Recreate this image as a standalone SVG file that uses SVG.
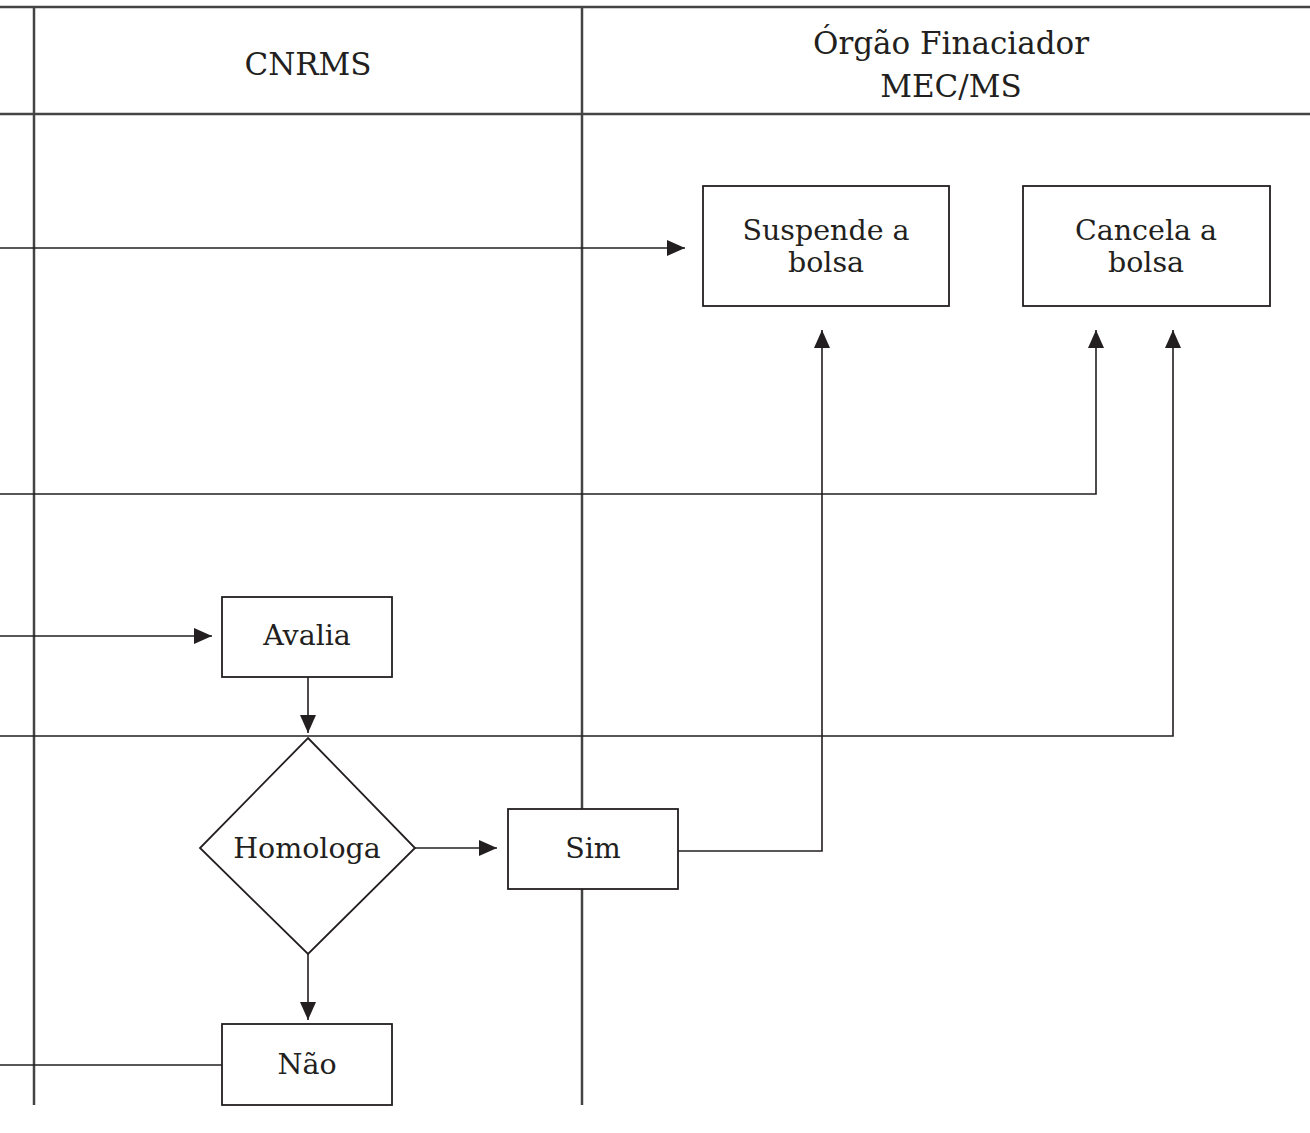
<svg xmlns="http://www.w3.org/2000/svg" width="1310" height="1133" viewBox="0 0 1310 1133">
<style>
.lane{stroke:#444;stroke-width:2.5;fill:none}
.box{fill:#fff;stroke:#231f20;stroke-width:1.8}
.conn{stroke:#231f20;stroke-width:1.6;fill:none}
text{font-family:"DejaVu Serif","Liberation Serif",serif;font-size:28.5px;fill:#231f20;text-anchor:middle}
text.hd{font-size:31px}
</style>
<defs>
<marker id="ah" markerWidth="18" markerHeight="16" refX="18" refY="8" orient="auto" markerUnits="userSpaceOnUse">
<path d="M0,0 L18,8 L0,16 Z" fill="#231f20"/>
</marker>
</defs>
<rect width="1310" height="1133" fill="#fff"/>
<g id="lanes">
<line class="lane" x1="0" y1="7" x2="1310" y2="7"/>
<line class="lane" x1="0" y1="114" x2="1310" y2="114"/>
<line class="lane" x1="34" y1="7" x2="34" y2="1105"/>
<line class="lane" x1="582" y1="7" x2="582" y2="1105"/>
<text class="hd" x="308" y="75">CNRMS</text>
<text class="hd" x="951" y="54">Órgão Finaciador</text>
<text class="hd" x="951" y="97">MEC/MS</text>
</g>
<g id="connectors">
<line class="conn" x1="0" y1="248" x2="685" y2="248" marker-end="url(#ah)"/>
<polyline class="conn" points="678,851 822,851 822,330" marker-end="url(#ah)"/>
<polyline class="conn" points="0,494 1096,494 1096,330" marker-end="url(#ah)"/>
<polyline class="conn" points="0,736 1173,736 1173,330" marker-end="url(#ah)"/>
<line class="conn" x1="0" y1="636" x2="212" y2="636" marker-end="url(#ah)"/>
<line class="conn" x1="308" y1="677" x2="308" y2="733" marker-end="url(#ah)"/>
<line class="conn" x1="415" y1="848" x2="497" y2="848" marker-end="url(#ah)"/>
<line class="conn" x1="308" y1="954" x2="308" y2="1020" marker-end="url(#ah)"/>
<line class="conn" x1="222" y1="1065" x2="0" y2="1065"/>
</g>
<g id="suspende">
<rect class="box" x="703" y="186" width="246" height="120"/>
<text x="826" y="240">Suspende a</text>
<text x="826" y="272">bolsa</text>
</g>
<g id="cancela">
<rect class="box" x="1023" y="186" width="247" height="120"/>
<text x="1146" y="240">Cancela a</text>
<text x="1146" y="272">bolsa</text>
</g>
<g id="avalia">
<rect class="box" x="222" y="597" width="170" height="80"/>
<text x="307" y="645">Avalia</text>
</g>
<g id="homologa">
<polygon class="box" points="308,738 415,848 308,954 200,848"/>
<text x="307" y="858">Homologa</text>
</g>
<g id="sim">
<rect class="box" x="508" y="809" width="170" height="80"/>
<text x="593" y="858">Sim</text>
</g>
<g id="nao">
<rect class="box" x="222" y="1024" width="170" height="81"/>
<text x="307" y="1074">Não</text>
</g>
</svg>
